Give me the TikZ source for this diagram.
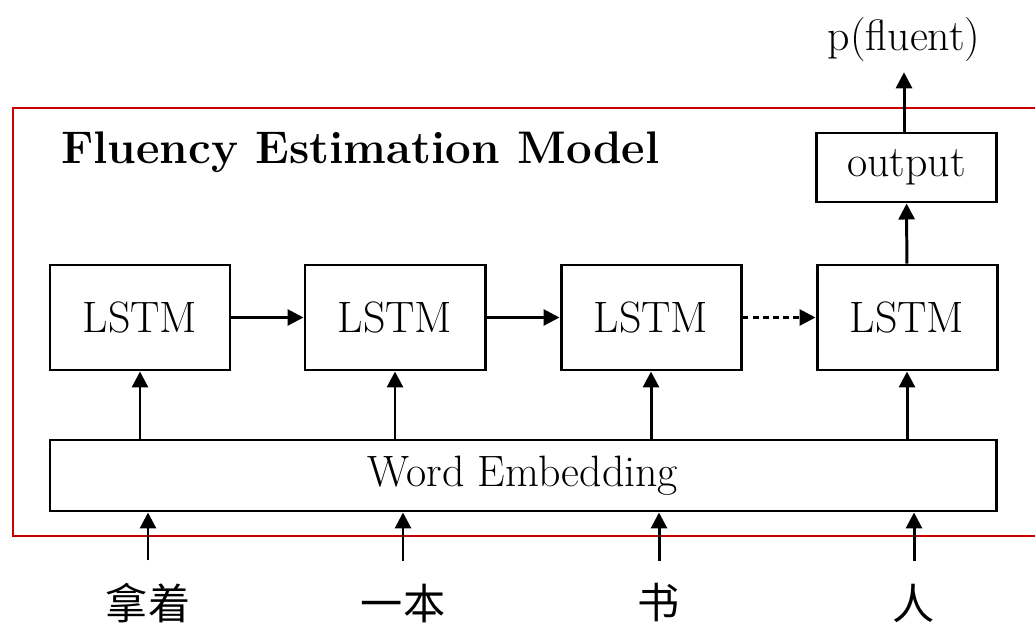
\documentclass[tikz,border=0pt]{standalone}
\usepackage{fontspec}
\newfontfamily\cjk{Noto Sans CJK SC}
\usetikzlibrary{arrows.meta}
\begin{document}
\begin{tikzpicture}[
    box/.style={draw, line width=1.7pt, minimum width=3.6cm, minimum height=2.1cm, font=\fontsize{25}{30}\selectfont},
    arr/.style={line width=1.7pt, -{Triangle[length=0.32cm,width=0.32cm]}},
    txt/.style={font=\fontsize{25}{30}\selectfont, inner sep=0pt}
  ]
  \useasboundingbox (0,0) rectangle (20.7,12.58);
  % model frame
  \draw [line width=1.3pt, color={rgb,255:red,200;green,0;blue,0}] (0.26,1.86) rectangle (21.2,10.42);
  \node [anchor=west, font=\fontsize{26}{31}\selectfont\bfseries] (title) at (1.1,9.54) {Fluency Estimation Model};
  % recurrent cells
  \node [box] (lstm1) at (2.8,6.23) {LSTM};
  \node [box] (lstm2) at (7.9,6.23) {LSTM};
  \node [box] (lstm3) at (13.02,6.23) {LSTM};
  \node [box] (lstm4) at (18.14,6.23) {LSTM};
  \node [box, minimum height=1.38cm] (out) at (18.13,9.23) {output};
  \node [box, minimum width=18.92cm, minimum height=1.42cm] (emb) at (10.46,3.07) {Word Embedding};
  \node [txt] (prob) at (18.08,11.78) {p(fluent)};
  % input words
  \node [txt, font=\fontsize{24}{28}\selectfont\cjk] (w1) at (2.96,0.52) {拿着};
  \node [txt, font=\fontsize{24}{28}\selectfont\cjk] (w2) at (8.06,0.52) {一本};
  \node [txt, font=\fontsize{24}{28}\selectfont\cjk] (w3) at (13.18,0.52) {书};
  \node [txt, font=\fontsize{24}{28}\selectfont\cjk] (w4) at (18.28,0.52) {人};
  % connections
  \draw [arr] (lstm1) -- (lstm2);
  \draw [arr] (lstm2) -- (lstm3);
  \draw [arr, dash pattern=on 3.4pt off 2.4pt] (lstm3) -- (lstm4);
  \draw [arr] (emb.north -| lstm1) -- (lstm1);
  \draw [arr] (emb.north -| lstm2) -- (lstm2);
  \draw [arr] (emb.north -| lstm3) -- (lstm3);
  \draw [arr] (emb.north -| lstm4) -- (lstm4);
  \draw [arr] (lstm4) -- (out);
  \draw [arr, shorten >=0.2cm] (out.north -| prob) -- (prob);
  \draw [arr, shorten <=0.45cm] (w1.north) -- (emb.south -| w1);
  \draw [arr, shorten <=0.45cm] (w2.north) -- (emb.south -| w2);
  \draw [arr, shorten <=0.45cm] (w3.north) -- (emb.south -| w3);
  \draw [arr, shorten <=0.45cm] (w4.north) -- (emb.south -| w4);
\end{tikzpicture}
\end{document}
